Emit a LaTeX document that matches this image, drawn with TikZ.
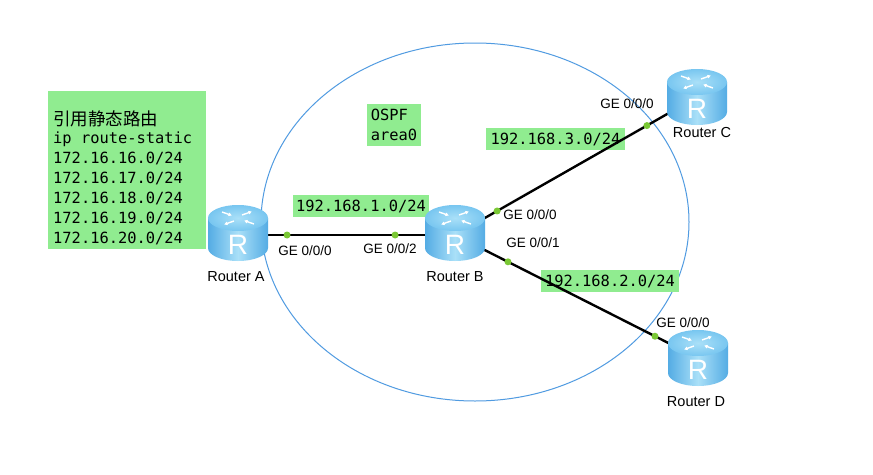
\documentclass[tikz,border=0pt]{standalone}
\usepackage{fontspec}
\setmainfont{Liberation Sans}
\newfontfamily\monof{DejaVu Sans Mono}
\newfontfamily\cjkf{Noto Sans CJK SC}
\usetikzlibrary{arrows.meta}
\definecolor{lblgreen}{RGB}{144,236,144}
\definecolor{dotgreen}{RGB}{122,200,52}
\definecolor{ringblue}{RGB}{80,155,225}
\definecolor{rbedge}{RGB}{84,172,228}
\definecolor{rbmid}{RGB}{170,224,248}
\definecolor{rtop}{RGB}{120,198,240}
\tikzset{
  gbox/.style={fill=lblgreen, inner xsep=3pt, inner ysep=1pt, font={\monof\fontsize{15.4}{20}\selectfont}},
  mono/.style={inner sep=0pt, font={\monof\fontsize{15.4}{20}\selectfont}},
  cfgbox/.style={fill=lblgreen, inner sep=0pt, anchor=north west},
  rtr/.style={minimum width=60pt, minimum height=56pt, inner sep=0pt},
  link/.style={line width=2.4pt, black},
  dot/.style={circle, fill=dotgreen, inner sep=0pt, minimum size=7pt},
  port/.style={font={\fontsize{13.5}{16}\selectfont}, inner sep=0pt},
  rlabel/.style={font={\fontsize{14.5}{17}\selectfont}, inner sep=0pt},
  router/.pic={
    \shade[left color=rbedge, right color=rbedge, middle color=rbmid]
      (-30,-15) -- (-30,15) .. controls (-30,22.2) and (-16.6,28) .. (0,28)
      .. controls (16.6,28) and (30,22.2) .. (30,15) -- (30,-15) -- cycle;
    \shade[inner color=rbmid, outer color=rtop] (0,-15) ellipse [x radius=30, y radius=13];
    \begin{scope}[white, line width=1.4pt, -{Latex[length=3.5pt,width=4pt]}]
      \draw (-16,-21) -- (-6,-17.5);
      \draw (16,-9) -- (6,-12.5);
      \draw (4,-18) -- (14,-21.5);
      \draw (-4,-12) -- (-14,-8.5);
    \end{scope}
    \node[text=white, inner sep=0pt, font={\fontsize{28}{28}\selectfont}] at (0,11.5) {R};
  }
}
\begin{document}
\begin{tikzpicture}[x=1pt,y=-1pt]
\useasboundingbox (0,0) rectangle (873,474);
\fill[white] (0,0) rectangle (873,474);

% OSPF area ring
\draw[ringblue, line width=1pt] (475,222) ellipse [x radius=214, y radius=179];

% configuration box
\node[cfgbox, minimum width=158pt, minimum height=158pt] (cfg) at (48,91) {};
\node[inner sep=0pt, anchor=base west, font={\cjkf\fontsize{17.5}{20}\selectfont}] (cfg0) at (53,125.6) {引用静态路由};
\foreach \t [count=\i] in {ip route-static,172.16.16.0/24,172.16.17.0/24,172.16.18.0/24,172.16.19.0/24,172.16.20.0/24}
  \node[mono, anchor=base west] (cfg\i) at (53,{143.5+20*(\i-1)}) {\t};

% labels in the area
\node[gbox, minimum width=54pt, minimum height=42pt, align=left] (ospf) at (394,125) {OSPF\\area0};
\node[gbox, minimum width=136pt, minimum height=22pt] (net1) at (361,206) {192.168.1.0/24};
\node[gbox, minimum width=139pt, minimum height=22pt] (net3) at (555.5,139) {192.168.3.0/24};
\node[gbox, minimum width=138pt, minimum height=22pt] (net2) at (610,281) {192.168.2.0/24};

% router anchors
\node[rtr] (A) at (238,235) {};
\node[rtr] (B) at (455,235) {};
\node[rtr] (C) at (697,97) {};
\node[rtr] (D) at (698,358) {};

% links
\draw[link] (A.center) -- (B.center)
  node[dot, pos=0.226] (pa) {} node[dot, pos=0.724] (pb2) {};
\draw[link] (B.center) -- (C.center)
  node[dot, pos=0.174] (pb0) {} node[dot, pos=0.793] (pc) {};
\draw[link] (B.center) -- (D.center)
  node[dot, pos=0.218] (pb1) {} node[dot, pos=0.823] (pd) {};

% routers
\pic at ([yshift=2pt]A.center) {router};
\pic at ([yshift=2pt]B.center) {router};
\pic at (C.center) {router};
\pic at (D.center) {router};

% router names
\node[rlabel] (la) at (236,277) {Router A};
\node[rlabel] (lb) at (455,277) {Router B};
\node[rlabel] (lc) at (702,133) {Router C};
\node[rlabel] (ld) at (696,402) {Router D};

% port names
\node[port] (ga) at (305,251) {GE 0/0/0};
\node[port] (gb2) at (390,249) {GE 0/0/2};
\node[port] (gb0) at (530,215) {GE 0/0/0};
\node[port] (gb1) at (533,243) {GE 0/0/1};
\node[port] (gc) at (627,104) {GE 0/0/0};
\node[port] (gd) at (683,323) {GE 0/0/0};
\end{tikzpicture}
\end{document}
